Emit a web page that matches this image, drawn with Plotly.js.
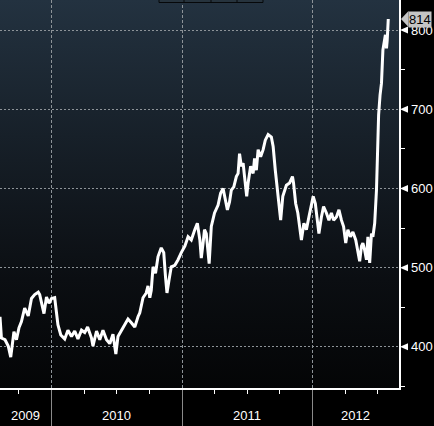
<!DOCTYPE html>
<html>
<head>
<meta charset="utf-8">
<script src="https://cdn.plot.ly/plotly-3.0.1.min.js"></script>
<style>
  html, body { margin: 0; padding: 0; background: #000; }
  #wrap { position: relative; width: 434px; height: 426px; overflow: hidden; background: #000; }
  #bg { position: absolute; left: 0; top: 0; width: 399px; height: 388px;
        background: linear-gradient(to bottom, #233240 0%, #172029 35%, #0b0e12 72%, #040506 100%); }
  #chart { position: absolute; left: 0; top: 0; width: 434px; height: 426px; }
</style>
</head>
<body>
<div id="wrap"><div id="bg"></div><div id="chart"></div></div>
<script>
const dates = [
  "2009-08-09","2009-08-13","2009-08-23","2009-09-01","2009-09-08","2009-09-17","2009-09-24","2009-10-01",
  "2009-10-08","2009-10-17","2009-10-27","2009-11-05","2009-11-14","2009-11-24","2009-11-28","2009-12-05",
  "2009-12-10","2009-12-17","2009-12-24","2009-12-31","2010-01-09","2010-01-18","2010-01-26","2010-02-06",
  "2010-02-15","2010-02-25","2010-03-06","2010-03-15","2010-03-25","2010-04-03","2010-04-11","2010-04-22",
  "2010-04-26","2010-05-06","2010-05-15","2010-05-24","2010-06-03","2010-06-12","2010-06-21","2010-06-29",
  "2010-07-05","2010-07-15","2010-07-24","2010-08-02","2010-08-12","2010-08-21","2010-08-30","2010-09-04",
  "2010-09-13","2010-09-22","2010-09-27","2010-10-02","2010-10-06","2010-10-11","2010-10-18","2010-10-25",
  "2010-11-03","2010-11-10","2010-11-15","2010-11-19","2010-11-25","2010-12-01","2010-12-11","2010-12-20",
  "2010-12-29",
  "2011-01-08","2011-01-17","2011-01-26","2011-02-05","2011-02-12","2011-02-19","2011-02-23","2011-02-28",
  "2011-03-04","2011-03-09","2011-03-14","2011-03-17","2011-03-23","2011-04-01","2011-04-11","2011-04-18",
  "2011-04-25","2011-04-29","2011-05-07","2011-05-13","2011-05-18","2011-05-25","2011-06-01","2011-06-06",
  "2011-06-10","2011-06-15","2011-06-20","2011-06-24","2011-06-30","2011-07-04","2011-07-11","2011-07-18",
  "2011-07-22","2011-07-27","2011-08-01","2011-08-08","2011-08-15","2011-08-21","2011-08-29","2011-09-07",
  "2011-09-12","2011-09-18","2011-09-24","2011-09-28","2011-10-03","2011-10-09","2011-10-19","2011-10-28",
  "2011-11-05","2011-11-08","2011-11-14","2011-11-20","2011-11-25","2011-11-30","2011-12-07","2011-12-14",
  "2011-12-21","2011-12-28",
  "2012-01-02","2012-01-08","2012-01-13","2012-01-18","2012-01-25","2012-01-31","2012-02-08","2012-02-15",
  "2012-02-22","2012-02-28","2012-03-07","2012-03-14","2012-03-21","2012-03-27","2012-04-02","2012-04-08",
  "2012-04-15","2012-04-22","2012-04-30","2012-05-06","2012-05-11","2012-05-16","2012-05-20","2012-05-25",
  "2012-05-30","2012-06-03","2012-06-08","2012-06-13","2012-06-17","2012-06-22","2012-06-27","2012-06-30",
  "2012-07-03","2012-07-07","2012-07-11","2012-07-15","2012-07-19","2012-07-22","2012-07-25","2012-07-27",
  "2012-07-30"
];
const prices = [
  438,411,409,401,387,419,409,424,
  432,449,439,461,466,469,466,452,
  442,463,455,461,462,428,415,410,
  421,413,420,410,421,418,425,411,
  401,420,409,421,409,404,416,391,
  413,421,428,435,430,425,438,443,
  462,468,477,462,471,501,493,514,
  525,519,488,468,485,501,503,510,
  519,
  527,539,535,548,556,535,512,531,
  548,543,522,505,552,569,579,594,
  600,590,573,583,598,602,615,619,
  644,628,632,615,590,607,628,619,
  638,623,649,640,649,661,668,665,
  653,623,598,573,560,590,604,607,
  615,607,581,569,552,535,556,548,
  564,581,
  590,581,564,543,564,577,569,560,
  569,560,564,573,560,552,531,548,
  539,545,535,518,508,527,531,522,
  510,539,506,543,539,556,598,645,
  693,718,733,775,787,794,777,787,
  814
];
const yTickVals = [400, 500, 600, 700, 800];
const yTickText = ["400", "500", "600", "700", "800"];
const yearLabels = ["2009", "2010", "2011", "2012"];
const yearStarts = ["2009-01-01", "2010-01-01", "2011-01-01", "2012-01-01", "2013-01-01"];

const xRange = ["2009-08-09", "2012-08-29"];
const yRange = [348, 838];
const gridCol = "#8d9398";
const font = "Liberation Sans, Arial, sans-serif";

const shapes = [];
yTickVals.forEach(v => {
  shapes.push({
    type: "path", xref: "paper", xsizemode: "pixel", xanchor: 1,
    yref: "y", ysizemode: "pixel", yanchor: v,
    path: "M1,0 L9,3.5 L9,-3.5 Z", fillcolor: "#ffffff", line: { width: 0 }
  });
});
const lastVal = prices[prices.length - 1];
shapes.push({
  type: "path", xref: "paper", xsizemode: "pixel", xanchor: 1,
  yref: "y", ysizemode: "pixel", yanchor: lastVal,
  path: "M2,0 L9.5,8 L9.5,-8 Z", fillcolor: "#c4c4c4", line: { width: 0 }
});
// small partially visible box at top
const bx0 = 159 / 399, bx1 = 263 / 399, by0 = 1 - 2.5 / 388;
shapes.push({ type: "rect", xref: "paper", yref: "paper", x0: bx0, x1: bx1, y0: by0, y1: 1.02,
  fillcolor: "#26333d", line: { color: "#06080a", width: 1 } });
[184 / 399, 211 / 399, 237 / 399].forEach(px => {
  shapes.push({ type: "line", xref: "paper", yref: "paper", x0: px, x1: px, y0: by0, y1: 1.02,
    line: { color: "#06080a", width: 1 } });
});

const t0 = Date.parse(xRange[0]), t1 = Date.parse(xRange[1]);
const annotations = yearLabels.map((lab, i) => {
  const a = Math.max(t0, Date.parse(yearStarts[i]));
  const b = Math.min(t1, Date.parse(yearStarts[i + 1]));
  return {
    text: lab, xref: "x", yref: "paper", x: new Date((a + b) / 2).toISOString().slice(0, 10),
    y: 0, yshift: -27, yanchor: "middle", xanchor: "center", showarrow: false,
    font: { family: font, size: 13, color: "#ffffff" }
  };
});
annotations.push({
  text: String(lastVal), xref: "paper", yref: "y", x: 1, xanchor: "left", xshift: 9,
  y: lastVal, yanchor: "middle", showarrow: false, bgcolor: "#c4c4c4", borderpad: 0,
  font: { family: font, size: 13, color: "#000000" }
});

const trace = {
  x: dates, y: prices, type: "scatter", mode: "lines",
  line: { color: "#ffffff", width: 3 }, hoverinfo: "skip"
};

const layout = {
  width: 434, height: 426,
  margin: { l: 0, r: 35, t: 0, b: 38, pad: 0 },
  paper_bgcolor: "rgba(0,0,0,0)", plot_bgcolor: "rgba(0,0,0,0)",
  showlegend: false,
  xaxis: {
    type: "date", range: xRange, fixedrange: true,
    tickmode: "linear", tick0: "2010-01-01", dtick: "M12",
    ticks: "outside", ticklen: 40, tickwidth: 1, tickcolor: "#8a8a8a",
    showticklabels: false,
    showgrid: true, gridcolor: gridCol, griddash: "3px,2px", gridwidth: 1,
    showline: true, linecolor: "#ffffff", linewidth: 1.5,
    zeroline: false,
    minor: { tickmode: "linear", tick0: "2009-01-01", dtick: "M3", ticks: "outside",
             ticklen: 4, tickwidth: 1, tickcolor: "#ffffff", showgrid: false }
  },
  yaxis: {
    side: "right", range: yRange, fixedrange: true,
    tickmode: "array", tickvals: yTickVals, ticktext: yTickText,
    ticks: "", ticklabelstandoff: 8,
    tickfont: { family: font, size: 13, color: "#ffffff" },
    showgrid: true, gridcolor: gridCol, griddash: "2px,2px", gridwidth: 1,
    showline: true, linecolor: "#ffffff", linewidth: 1.5,
    zeroline: false,
    minor: { tickmode: "linear", tick0: 350, dtick: 100, ticks: "outside",
             ticklen: 4, tickwidth: 1, tickcolor: "#ffffff", showgrid: false }
  },
  shapes: shapes,
  annotations: annotations
};

Plotly.newPlot("chart", [trace], layout, { staticPlot: true, displayModeBar: false });
</script>
</body>
</html>
